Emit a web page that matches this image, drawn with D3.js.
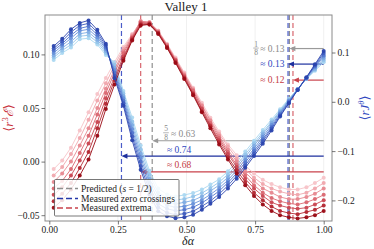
<!DOCTYPE html>
<html><head><meta charset="utf-8">
<script src="https://cdn.jsdelivr.net/npm/d3@7"></script>
<style>body{margin:0;background:#fff}text{font-family:"Liberation Serif","DejaVu Serif",serif}</style>
</head><body>
<svg id="c" width="374" height="249"></svg>
<script>
// ---- data ----
const deltaAlpha = [0.016,0.047,0.079,0.111,0.143,0.175,0.206,0.238,0.270,0.302,0.333,0.365,0.397,0.429,0.460,0.492,0.524,0.556,0.587,0.619,0.651,0.683,0.714,0.746,0.778,0.810,0.841,0.873,0.905,0.937,0.968,1.000];

const energy0 = [-0.007,0.001,0.013,0.029,0.046,0.063,0.078,0.093,0.107,0.119,0.130,0.129,0.122,0.110,0.097,0.083,0.069,0.055,0.041,0.028,0.016,0.006,-0.004,-0.011,-0.017,-0.021,-0.024,-0.026,-0.026,-0.024,-0.020,-0.015];
const energy1 = [-0.013,-0.005,0.007,0.022,0.039,0.057,0.073,0.090,0.105,0.118,0.131,0.130,0.122,0.109,0.096,0.082,0.068,0.053,0.039,0.026,0.014,0.003,-0.007,-0.015,-0.021,-0.025,-0.028,-0.030,-0.031,-0.029,-0.025,-0.020];
const energy2 = [-0.019,-0.011,0.000,0.015,0.031,0.050,0.068,0.086,0.103,0.117,0.131,0.130,0.121,0.109,0.095,0.081,0.067,0.052,0.038,0.024,0.011,0.000,-0.010,-0.018,-0.025,-0.029,-0.033,-0.035,-0.035,-0.033,-0.030,-0.025];
const energy3 = [-0.025,-0.018,-0.007,0.008,0.024,0.044,0.064,0.083,0.101,0.116,0.130,0.129,0.121,0.108,0.095,0.080,0.066,0.050,0.036,0.022,0.009,-0.003,-0.013,-0.022,-0.029,-0.034,-0.037,-0.039,-0.040,-0.038,-0.035,-0.031];
const energy4 = [-0.031,-0.024,-0.013,0.001,0.017,0.037,0.059,0.079,0.098,0.115,0.129,0.129,0.120,0.107,0.094,0.079,0.064,0.049,0.034,0.020,0.007,-0.005,-0.016,-0.025,-0.032,-0.038,-0.041,-0.043,-0.044,-0.043,-0.040,-0.036];
const energy5 = [-0.037,-0.030,-0.020,-0.006,0.009,0.031,0.054,0.076,0.096,0.114,0.128,0.128,0.120,0.107,0.093,0.078,0.063,0.047,0.033,0.018,0.004,-0.008,-0.019,-0.029,-0.036,-0.042,-0.046,-0.048,-0.049,-0.047,-0.045,-0.041];
const energy6 = [-0.043,-0.036,-0.026,-0.013,0.002,0.024,0.049,0.072,0.094,0.113,0.127,0.128,0.119,0.106,0.092,0.077,0.062,0.046,0.031,0.016,0.002,-0.011,-0.022,-0.032,-0.040,-0.046,-0.050,-0.052,-0.053,-0.052,-0.050,-0.046];

const current0 = [0.085,0.099,0.110,0.127,0.129,0.116,0.095,0.080,0.022,-0.032,-0.088,-0.140,-0.176,-0.188,-0.192,-0.189,-0.185,-0.178,-0.168,-0.157,-0.141,-0.122,-0.101,-0.079,-0.057,-0.036,-0.015,0.006,0.026,0.046,0.063,0.080];
const current1 = [0.090,0.104,0.116,0.133,0.135,0.121,0.099,0.075,0.017,-0.040,-0.096,-0.148,-0.184,-0.195,-0.199,-0.197,-0.192,-0.185,-0.175,-0.163,-0.147,-0.128,-0.107,-0.084,-0.062,-0.040,-0.018,0.005,0.026,0.047,0.065,0.084];
const current2 = [0.094,0.109,0.122,0.138,0.141,0.126,0.103,0.069,0.012,-0.047,-0.105,-0.156,-0.191,-0.203,-0.207,-0.204,-0.200,-0.192,-0.181,-0.169,-0.153,-0.133,-0.112,-0.089,-0.066,-0.043,-0.020,0.003,0.025,0.047,0.067,0.088];
const current3 = [0.099,0.114,0.129,0.144,0.147,0.131,0.107,0.064,0.007,-0.055,-0.113,-0.164,-0.199,-0.210,-0.214,-0.212,-0.207,-0.199,-0.188,-0.175,-0.159,-0.139,-0.118,-0.095,-0.071,-0.047,-0.023,0.002,0.025,0.048,0.070,0.092];
const current4 = [0.104,0.118,0.135,0.149,0.153,0.136,0.110,0.059,0.002,-0.063,-0.121,-0.172,-0.207,-0.217,-0.221,-0.219,-0.214,-0.205,-0.194,-0.181,-0.164,-0.145,-0.123,-0.100,-0.076,-0.051,-0.025,0.000,0.025,0.049,0.072,0.095];
const current5 = [0.108,0.123,0.141,0.155,0.159,0.141,0.114,0.053,-0.003,-0.070,-0.130,-0.180,-0.214,-0.225,-0.229,-0.227,-0.222,-0.212,-0.201,-0.187,-0.170,-0.150,-0.129,-0.105,-0.080,-0.054,-0.028,-0.002,0.024,0.049,0.074,0.099];
const current6 = [0.113,0.128,0.147,0.160,0.165,0.146,0.118,0.048,-0.008,-0.078,-0.138,-0.188,-0.222,-0.232,-0.236,-0.234,-0.229,-0.219,-0.207,-0.193,-0.176,-0.156,-0.134,-0.110,-0.085,-0.058,-0.030,-0.003,0.024,0.050,0.076,0.103];

const energySeries = [energy0,energy1,energy2,energy3,energy4,energy5,energy6];
const currentSeries = [current0,current1,current2,current3,current4,current5,current6];

const xTicks = [0,0.25,0.5,0.75,1.0];
const leftTicks = [-0.05,0.00,0.05,0.10];
const rightTicks = [-0.2,-0.1,0.0,0.1];

// vertical markers: predicted, zero crossings, extrema
const predictedX = [0.375, 0.875];
const zeroCrossX = [0.263, 0.870];
const extremaX = [0.333, 0.888];

// arrow annotations (right-axis y values)
const arrowTo = [0.875, 0.870, 0.888, 0.375, 0.263, 0.333];
const arrowY = [0.108, 0.0765, 0.044, -0.079, -0.110, -0.142];
const arrowKind = ["pred","zero","ext","pred","zero","ext"];
const arrowText = ["≈ 0.13","≈ 0.13","≈ 0.12","≈ 0.63","≈ 0.74","≈ 0.68"];
const arrowFrac = ["1/8", null, null, "5/8", null, null];

const legendLabels = ["Predicted", "Measured zero crossings", "Measured extrema"];

// ---- drawing ----
const svg = d3.select("#c");
const PL=45, PR=332, PT=15, PB=221;
const x = d3.scaleLinear().domain([0,1]).range([49.3,323.7]);
const yL = d3.scaleLinear().domain([-0.05,0.10]).range([215.2,54.4]);
const yR = d3.scaleLinear().domain([-0.2,0.1]).range([200.4,52.5]);

const redCol = d3.interpolateRgbBasis(["#f7c3c8","#e98a92","#cc4450","#9a0a14"]);
const blueCol = d3.interpolateRgbBasis(["#abd8f1","#7eb0e4","#4f72d0","#2a43ad"]);
const kindCol = {pred:"#8f8f8f", zero:"#4a5cc8", ext:"#d8666e"};
const arrowCol = {pred:"#9a9a9a", zero:"#1d2f9e", ext:"#c9424b"};
const textCol = {pred:"#8a8a8a", zero:"#2f47c0", ext:"#c43a44"};

svg.append("defs").append("clipPath").attr("id","clip")
  .append("rect").attr("x",PL).attr("y",PT).attr("width",PR-PL).attr("height",PB-PT);

// grid
svg.append("g").selectAll("line").data(xTicks).join("line")
  .attr("x1",d=>x(d)).attr("x2",d=>x(d)).attr("y1",PT).attr("y2",PB)
  .attr("stroke","#ececec").attr("stroke-width",0.8);

const plot = svg.append("g").attr("clip-path","url(#clip)");

// vertical dashed lines
const vl = [];
predictedX.forEach(v=>vl.push({v,k:"pred"}));
zeroCrossX.forEach(v=>vl.push({v,k:"zero"}));
extremaX.forEach(v=>vl.push({v,k:"ext"}));
plot.selectAll("line.vl").data(vl).join("line").attr("class","vl")
  .attr("x1",d=>x(d.v)).attr("x2",d=>x(d.v)).attr("y1",PT).attr("y2",PB)
  .attr("stroke",d=>kindCol[d.k]).attr("stroke-width",1.2).attr("stroke-dasharray","5,3");

// arrows
arrowTo.forEach((t,i)=>{
  const k = arrowKind[i], yy = yR(arrowY[i]), x0 = x(1.0), x1 = x(t);
  plot.append("line").attr("x1",x0).attr("x2",x1+5).attr("y1",yy).attr("y2",yy)
    .attr("stroke",arrowCol[k]).attr("stroke-width",1.2);
  plot.append("path").attr("d",`M${x1},${yy}L${x1+6},${yy-2.6}L${x1+6},${yy+2.6}Z`)
    .attr("fill",arrowCol[k]);
});

// curves
const n = energySeries.length;
for (let k=0;k<n;k++){
  const rc = redCol(k/(n-1)), bc = blueCol(k/(n-1));
  const ePts = deltaAlpha.map((d,i)=>[d,energySeries[k][i]]);
  const cPts = deltaAlpha.map((d,i)=>[d,currentSeries[k][i]]);
  const le = d3.line().x(d=>x(d[0])).y(d=>yL(d[1]));
  const lc = d3.line().x(d=>x(d[0])).y(d=>yR(d[1]));
  plot.append("path").attr("d",le(ePts)).attr("fill","none").attr("stroke",rc).attr("stroke-width",1).attr("opacity",0.9);
  plot.append("g").selectAll("circle").data(ePts).join("circle")
    .attr("cx",d=>x(d[0])).attr("cy",d=>yL(d[1])).attr("r",2).attr("fill",rc).attr("opacity",0.95);
  plot.append("path").attr("d",lc(cPts)).attr("fill","none").attr("stroke",bc).attr("stroke-width",1).attr("opacity",0.9);
  plot.append("g").selectAll("circle").data(cPts).join("circle")
    .attr("cx",d=>x(d[0])).attr("cy",d=>yR(d[1])).attr("r",2).attr("fill",bc).attr("opacity",0.95);
}

// arrow labels
function frac(g, fx, cy, num, den, col){
  g.append("text").attr("x",fx).attr("y",cy-1.3).attr("text-anchor","middle").attr("font-size",7.5).attr("fill",col).text(num);
  g.append("line").attr("x1",fx-2.8).attr("x2",fx+2.8).attr("y1",cy).attr("y2",cy).attr("stroke",col).attr("stroke-width",0.6);
  g.append("text").attr("x",fx).attr("y",cy+6.8).attr("text-anchor","middle").attr("font-size",7.5).attr("fill",col).text(den);
}
const lab = svg.append("g");
arrowTo.forEach((t,i)=>{
  const k = arrowKind[i], yy = yR(arrowY[i]);
  if (i<3){
    const tx = 284.5;
    lab.append("text").attr("x",tx).attr("y",yy+3.2).attr("text-anchor","end").attr("font-size",9.5).attr("fill",textCol[k]).text(arrowText[i]);
    if (arrowFrac[i]){ const p=arrowFrac[i].split("/"); frac(lab, 256, yy-0.5, p[0], p[1], textCol[k]); }
  } else {
    const tx = arrowFrac[i] ? 171 : 167;
    lab.append("text").attr("x",tx).attr("y",yy-3.5).attr("font-size",9.5).attr("fill",textCol[k]).text(arrowText[i]);
    if (arrowFrac[i]){ const p=arrowFrac[i].split("/"); frac(lab, 166, yy-8, p[0], p[1], textCol[k]); }
  }
});

// frame
svg.append("rect").attr("x",PL).attr("y",PT).attr("width",PR-PL).attr("height",PB-PT)
  .attr("fill","none").attr("stroke","#8a8a8a").attr("stroke-width",1);

// axes
function styleAxis(g){
  g.select(".domain").remove();
  g.selectAll(".tick line").attr("stroke","#555").attr("stroke-width",0.8);
  g.selectAll(".tick text").attr("font-size",9.5).attr("fill","#222")
    .attr("font-family","'Liberation Serif','DejaVu Serif',serif");
}
svg.append("g").attr("transform",`translate(${PL},0)`)
  .call(d3.axisLeft(yL).tickValues(leftTicks).tickFormat(d3.format(".2f")).tickSize(3.5).tickPadding(2)).call(styleAxis);
svg.append("g").attr("transform",`translate(${PR},0)`)
  .call(d3.axisRight(yR).tickValues(rightTicks).tickFormat(d3.format(".1f")).tickSize(3.5).tickPadding(2)).call(styleAxis);
svg.append("g").attr("transform",`translate(0,${PB})`)
  .call(d3.axisBottom(x).tickValues(xTicks).tickFormat(d3.format(".2f")).tickSize(3.5).tickPadding(2)).call(styleAxis);

// title & axis labels
svg.append("text").attr("x",186).attr("y",11).attr("text-anchor","middle").attr("font-size",13).attr("fill","#222").text("Valley 1");
svg.append("text").attr("x",188).attr("y",245).attr("text-anchor","middle").attr("font-size",12).attr("font-style","italic").attr("fill","#222").text("δα");

const ylab = svg.append("text").attr("transform","translate(13,118) rotate(-90)").attr("text-anchor","middle").attr("font-size",13).attr("fill","#c8323c");
ylab.append("tspan").text("⟨");
ylab.append("tspan").attr("font-style","italic").text("r");
ylab.append("tspan").attr("font-size",8.5).attr("dy",-5).text("3");
ylab.append("tspan").attr("font-style","italic").attr("dy",5).text("ℰ");
ylab.append("tspan").text("⟩");

const rlab = svg.append("text").attr("transform","translate(369,108) rotate(-90)").attr("text-anchor","middle").attr("font-size",13).attr("fill","#2f47c0");
rlab.append("tspan").text("⟨");
rlab.append("tspan").attr("font-style","italic").text("rJ");
rlab.append("tspan").attr("font-size",8.5).attr("font-style","italic").attr("dy",-5).text("θ");
rlab.append("tspan").attr("dy",5).text("⟩");

// legend
const lg = svg.append("g");
lg.append("rect").attr("x",54.5).attr("y",179.5).attr("width",124.5).attr("height",36.5)
  .attr("fill","#fff").attr("fill-opacity",0.85).attr("stroke","#555").attr("stroke-width",0.8).attr("rx",1);
const legKinds = ["pred","zero","ext"];
const legY = [188.5, 198.5, 208];
const legLine = {pred:"#8f8f8f", zero:"#2436a8", ext:"#c9424b"};
legendLabels.forEach((t,i)=>{
  lg.append("line").attr("x1",57).attr("x2",78).attr("y1",legY[i]).attr("y2",legY[i])
    .attr("stroke",legLine[legKinds[i]]).attr("stroke-width",1.3).attr("stroke-dasharray","6,3");
  const tt = lg.append("text").attr("x",81).attr("y",legY[i]+3).attr("font-size",9.5).attr("fill","#222");
  tt.append("tspan").text(t);
  if (i===0){
    tt.append("tspan").text(" (");
    tt.append("tspan").attr("font-style","italic").text("s");
    tt.append("tspan").text(" = 1/2)");
  }
});
</script>
</body></html>
